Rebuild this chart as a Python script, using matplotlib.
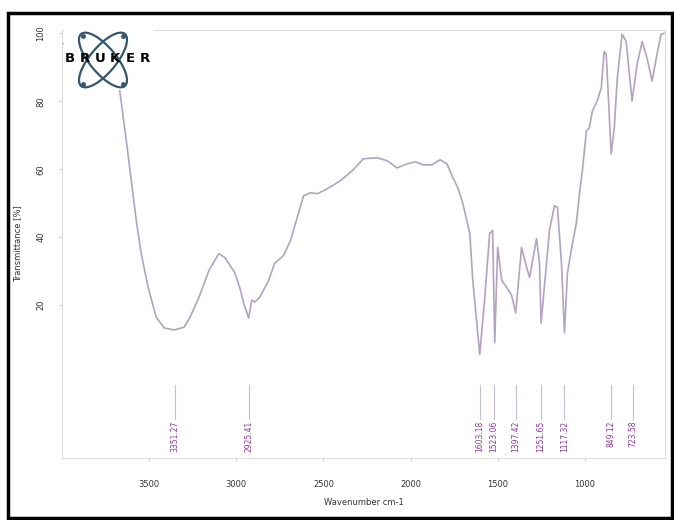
import numpy as np
import matplotlib.pyplot as plt
from matplotlib.patches import Ellipse, Rectangle

# spectrum (wavenumber, transmittance %)
wavenumber = [4000, 3900, 3800, 3740, 3700, 3671, 3630, 3574, 3546, 3506, 3460, 3414,
              3357, 3300, 3266, 3214, 3157, 3100, 3066, 3009, 2980, 2957, 2929, 2911,
              2894, 2866, 2814, 2780, 2729, 2689, 2649, 2614, 2574, 2534, 2477, 2403,
              2334, 2271, 2191, 2134, 2077, 2020, 1974, 1929, 1877, 1831, 1791, 1757,
              1729, 1700, 1660, 1643, 1603, 1574, 1546, 1529, 1517, 1500, 1477, 1449,
              1420, 1397, 1363, 1334, 1317, 1277, 1260, 1251, 1203, 1174, 1157, 1134,
              1117, 1100, 1071, 1049, 1031, 1014, 991, 974, 957, 929, 906, 889, 877,
              849, 831, 814, 786, 763, 729, 700, 671, 643, 614, 586, 563, 546]
transmittance = [97, 97, 96, 95, 92, 84, 68, 45, 35.3, 25.3, 16.5, 13.3,
                 12.7, 13.5, 16.4, 22.3, 30.2, 35.2, 34.0, 29.6, 25.2, 20.5, 16.2, 21.5,
                 20.9, 22.3, 27.3, 32.3, 34.6, 39.0, 46.0, 52.2, 53.1, 52.8, 54.3, 56.6,
                 59.6, 63.1, 63.4, 62.5, 60.4, 61.6, 62.2, 61.3, 61.3, 62.8, 61.6, 57.5,
                 54.6, 49.9, 41.1, 27.3, 5.5, 22.3, 41.1, 42.0, 8.9, 37.0, 27.3, 25.3,
                 22.9, 17.7, 37.0, 31.1, 28.2, 39.6, 32.3, 14.7, 42.0, 49.3, 48.7, 32.3,
                 11.8, 29.4, 38.2, 44.0, 52.8, 59.6, 71.3, 72.2, 77.1, 80.1, 83.9, 94.7, 93.8,
                 64.5, 72.2, 86.8, 99.8, 97.6, 80.1, 90.9, 97.6, 92.7, 86.0, 93.8, 99.7, 100.0]

peak_wn = [3351, 2925, 1603, 1523, 1397, 1251, 1117, 849, 723]
peak_labels = ['3351.27', '2925.41', '1603.18', '1523.06', '1397.42',
               '1251.65', '1117.32', '849.12', '723.58']

x_ticks = [3500, 3000, 2500, 2000, 1500, 1000]
y_ticks = [20, 40, 60, 80, 100]
logo_letters = ['B', 'R', 'U', 'K', 'E', 'R']

fig = plt.figure(figsize=(6.74, 5.20), dpi=100)

# thick outer frame
fig.patches.append(Rectangle((8 / 674, 2 / 520), 664 / 674, 505 / 520,
                             transform=fig.transFigure, fill=False,
                             edgecolor='black', linewidth=2.5))

ax = fig.add_axes([62 / 674, 62 / 520, 603 / 674, 428 / 520])
ax.plot(wavenumber, transmittance, color='#b4a2bf', linewidth=1.2)

for wn, lab in zip(peak_wn, peak_labels):
    ax.plot([wn, wn], [-3.4, -13.5], color='#cbbcd3', linewidth=0.8)
    ax.text(wn, -14.0, lab, rotation=90, va='top', ha='center',
            fontsize=5.5, color='#8a3a98')

ax.set_xlim(4000, 540)
ax.set_ylim(-25, 101)
ax.set_xticks(x_ticks)
ax.set_yticks(y_ticks)
ax.set_yticklabels([str(v) for v in y_ticks], rotation=90, va='center')
ax.tick_params(labelsize=6, length=2, color='#c8c8c8', colors='#333333')
ax.tick_params(axis='x', pad=14)
ax.tick_params(axis='y', pad=10)
for s in ax.spines.values():
    s.set_color('#dddddd')
    s.set_linewidth(0.8)
ax.set_xlabel('Wavenumber cm-1', fontsize=6, color='#333333', labelpad=6)
ax.set_ylabel('Transmittance [%]', fontsize=6, color='#333333', labelpad=10)

# Bruker logo in the top left corner
lg = fig.add_axes([64 / 674, 430 / 520, 90 / 674, 60 / 520])
lg.set_xlim(0, 90)
lg.set_ylim(0, 60)
lg.axis('off')
lg.add_patch(Rectangle((0, 0), 90, 60, color='white'))
for ang in (50, -50):
    lg.add_patch(Ellipse((39, 30), 68, 26, angle=ang, fill=False,
                         edgecolor='#35566d', linewidth=1.6))
for px, py in [(19, 54), (59, 54), (19, 6), (59, 6)]:
    lg.plot(px, py, 'o', color='#35566d', markersize=2.5)
for i, ch in enumerate(logo_letters):
    lg.text(6 + i * 15, 32, ch, ha='center', va='center', fontsize=9.5,
            fontweight='bold', color='black')

fig.savefig('out.png', dpi=100)
